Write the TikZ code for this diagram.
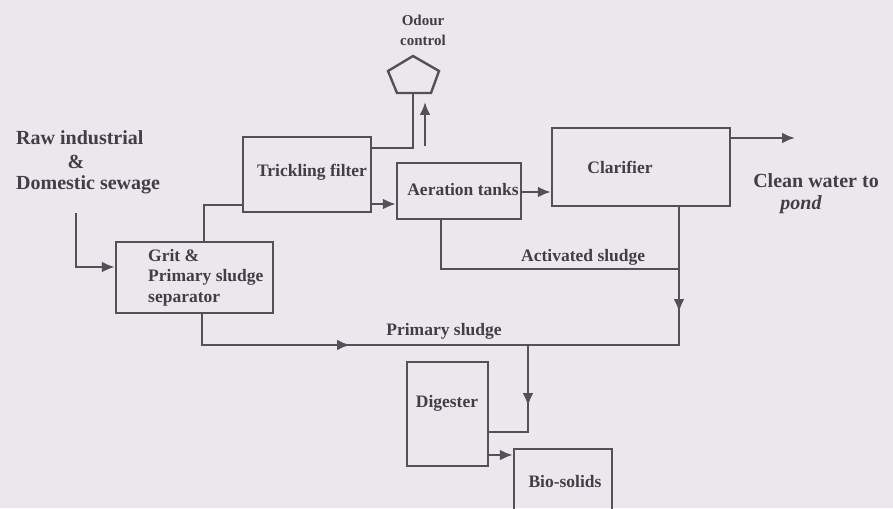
\documentclass[tikz,border=0pt]{standalone}
\usepackage{fontspec}
\setmainfont{Liberation Serif}
\usetikzlibrary{arrows.meta}
\definecolor{bgc}{RGB}{236,231,236}
\definecolor{ink}{RGB}{66,62,70}
\definecolor{linec}{RGB}{84,80,88}
\begin{document}
\begin{tikzpicture}[x=1pt,y=-1pt,
  box/.style={draw=linec,line width=2.4pt,inner sep=0pt},
  txt/.style={text=ink,inner sep=0pt,font=\bfseries\fontsize{17.5}{20.5}\selectfont},
  bigtxt/.style={text=ink,inner sep=0pt,font=\bfseries\fontsize{20}{22}\selectfont},
  smalltxt/.style={text=ink,inner sep=0pt,font=\bfseries\fontsize{15}{20}\selectfont},
  conn/.style={draw=linec,line width=2.4pt},
  arr/.style={conn,-{Latex[length=13pt,width=11pt]}}]
\useasboundingbox (0,0) rectangle (893,508);
\clip (0,0) rectangle (893,508);
\fill[bgc] (0,0) rectangle (893,508);

% boxes
\node[box,minimum width=157pt,minimum height=71pt] (grit) at (194.5,277.5) {};
\node[box,minimum width=128pt,minimum height=75pt] (trick) at (307,174.5) {};
\node[box,minimum width=124pt,minimum height=56pt] (aer) at (459,191) {};
\node[box,minimum width=178pt,minimum height=78pt] (clar) at (641,167) {};
\node[box,minimum width=81pt,minimum height=104pt] (dig) at (447.5,414) {};
\node[box,minimum width=98pt,minimum height=72pt] (bio) at (563,485) {};

% pentagon
\coordinate (odour) at (413,93);
\draw[conn,line join=miter] (397,93) -- (388,71) -- (413,56) -- (439,71) -- (431,93) -- cycle;

% texts
\node[bigtxt,anchor=west] (raw1) at (16,138) {Raw industrial};
\node[bigtxt] (raw2) at (76,162) {\&};
\node[bigtxt,anchor=west] (raw3) at (16,185) {Domestic sewage};
\node[txt,anchor=west,align=left] (grittxt) at (148,277.5) {Grit \&\\Primary sludge\\separator};
\node[txt] (tricktxt) at (312,172) {Trickling filter};
\node[txt] (aertxt) at (463,190) {Aeration tanks};
\node[txt] (clartxt) at (620,167) {Clarifier};
\node[txt] (digtxt) at (447,403) {Digester};
\node[txt] (biotxt) at (565,482) {Bio-solids};
\node[smalltxt,align=center] (odtxt) at (423,30) {Odour\\control};
\node[bigtxt,align=center] (cleantxt) at (816,194) {Clean water to\\\hspace*{-1.5em}\itshape pond};
\node[txt,anchor=west] (acttxt) at (521,257) {Activated sludge};
\node[txt] (primtxt) at (444,331) {Primary sludge};

% connectors
\coordinate (in) at (76,213);
\draw[arr] (in) |- (grit.west |- 0,267);
\draw[conn] (grit.north -| 204,0) |- (trick.west |- 0,205);
\draw[arr] (trick.east |- 0,204) -- (aer.west |- 0,204);
\draw[conn] (trick.east |- 0,148) -| (odour);
\coordinate (upA) at (425,146);
\coordinate (upB) at (425,102);
\draw[arr] (upA) -- (upB);
\draw[arr] (aer.east |- 0,192) -- (clar.west |- 0,192);
\coordinate (clean) at (795,138);
\draw[arr] (clar.east |- 0,138) -- (clean);
\coordinate (jA) at (679,269);
\coordinate (jB) at (679,345);
\coordinate (jC) at (528,345);
\coordinate (jD) at (528,432);
\draw[conn] (aer.south -| 441,0) |- (jA);
\draw[conn] (clar.south -| 679,0) -- (jB) -- (jC);
\draw[conn] (grit.south -| 202,0) |- (jC);
\draw[conn] (jC) -- (jD) -- (dig.east |- jD);
\coordinate (a1s) at (679,296);
\coordinate (a1e) at (679,312);
\coordinate (a2s) at (333,345);
\coordinate (a2e) at (350,345);
\coordinate (a3s) at (528,390);
\coordinate (a3e) at (528,406);
\draw[arr] (a1s) -- (a1e);
\draw[arr] (a2s) -- (a2e);
\draw[arr] (a3s) -- (a3e);
\draw[arr] (dig.east |- 0,455) -- (bio.west |- 0,455);
\end{tikzpicture}
\end{document}
